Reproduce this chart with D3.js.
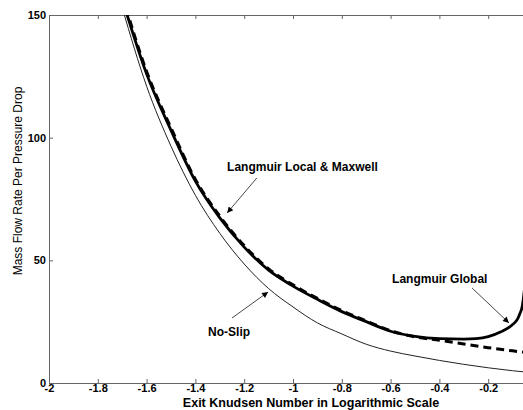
<!DOCTYPE html>
<html>
<head>
<meta charset="utf-8">
<script src="https://cdn.jsdelivr.net/npm/d3@7"></script>
<style>
    body { margin: 0; background: #fff; }
    svg { display: block; font-family: Arial, "Liberation Sans", sans-serif; }
</style>
</head>
<body>
<svg width="523" height="410"></svg>
<script>
// x = log10 of exit Knudsen number
var xTicks = [-2, -1.8, -1.6, -1.4, -1.2, -1, -0.8, -0.6, -0.4, -0.2];
var xTickLabels = ['-2', '-1.8', '-1.6', '-1.4', '-1.2', '-1', '-0.8', '-0.6', '-0.4', '-0.2'];
var yTicks = [0, 50, 100, 150];

var noSlipKn = [-1.7, -1.6, -1.5, -1.4, -1.3, -1.2, -1.1, -1.0, -0.9, -0.8, -0.7, -0.6, -0.5, -0.4, -0.3, -0.2, -0.1, 0];
var noSlip = [153, 121, 96.5, 76.5, 61, 48.5, 38.5, 31, 24.5, 20, 15.8, 13, 11, 9.2, 7.6, 6.2, 5, 4];

var localMaxwellKn = [-1.7, -1.6, -1.5, -1.4, -1.3, -1.2, -1.1, -1.0, -0.9, -0.8, -0.7, -0.6, -0.5, -0.4, -0.3, -0.2, -0.1, 0];
var localMaxwell = [158, 127, 104, 83, 68, 56, 46.5, 40, 34.5, 29.5, 25.3, 21.3, 18.8, 17.4, 15.9, 14.4, 13.1, 12];

var globalKn = [-1.7, -1.6, -1.5, -1.4, -1.3, -1.2, -1.1, -1.0, -0.9, -0.8, -0.7, -0.6, -0.5, -0.4, -0.3, -0.25, -0.2, -0.15, -0.1, -0.08, -0.07, -0.06, -0.05, -0.04];
var langmuirGlobal = [156.5, 126, 103, 82.3, 67.3, 55.4, 46, 39.5, 34.1, 29.1, 25, 21.1, 19, 18.1, 17.9, 18.1, 18.9, 20.8, 23.8, 26, 28.3, 31.5, 40, 55];

var svg = d3.select('svg');
var plotLeft = 49, plotTop = 15, plotRight = 537, plotBottom = 383;

var x = d3.scaleLinear().domain([-2, 0]).range([plotLeft, plotRight]);
var y = d3.scaleLinear().domain([0, 150]).range([plotBottom, plotTop]);

svg.append('clipPath').attr('id', 'plot')
    .append('rect')
        .attr('x', plotLeft).attr('y', plotTop)
        .attr('width', plotRight - plotLeft).attr('height', plotBottom - plotTop);

// axes, ticks pointing inward
function styleAxis(g) {
    g.selectAll('.domain').attr('stroke', '#666');
    g.selectAll('.tick line').attr('stroke', '#666');
    g.selectAll('text')
        .attr('fill', '#000')
        .attr('font-size', 11)
        .attr('font-weight', 'bold')
        .attr('font-family', 'Arial, "Liberation Sans", sans-serif');
}

svg.append('g')
    .attr('transform', 'translate(0,' + plotBottom + ')')
    .call(d3.axisBottom(x).tickValues(xTicks)
        .tickFormat(function(d, i) { return xTickLabels[i]; })
        .tickSizeInner(-4).tickSizeOuter(0).tickPadding(1))
    .call(styleAxis);

svg.append('g')
    .attr('transform', 'translate(0,' + plotTop + ')')
    .call(d3.axisTop(x).tickValues(xTicks).tickFormat('')
        .tickSizeInner(-4).tickSizeOuter(0))
    .call(styleAxis);

svg.append('g')
    .attr('transform', 'translate(' + plotLeft + ',0)')
    .call(d3.axisLeft(y).tickValues(yTicks)
        .tickSizeInner(-4).tickSizeOuter(0).tickPadding(3))
    .call(styleAxis);

// curves
function series(kn, vals) {
    return kn.map(function(d, i) { return [d, vals[i]]; });
}
var line = d3.line()
    .x(function(d) { return x(d[0]); })
    .y(function(d) { return y(d[1]); })
    .curve(d3.curveMonotoneX);

var curves = svg.append('g').attr('clip-path', 'url(#plot)');

curves.append('path')
    .datum(series(noSlipKn, noSlip))
    .attr('d', line)
    .attr('fill', 'none')
    .attr('stroke', '#222')
    .attr('stroke-width', 1);

curves.append('path')
    .datum(series(globalKn, langmuirGlobal))
    .attr('d', line)
    .attr('fill', 'none')
    .attr('stroke', '#000')
    .attr('stroke-width', 2.8);

curves.append('path')
    .datum(series(localMaxwellKn, localMaxwell))
    .attr('d', line)
    .attr('fill', 'none')
    .attr('stroke', '#000')
    .attr('stroke-width', 3)
    .attr('stroke-dasharray', '8,5');

// labels with arrows
svg.append('defs').append('marker')
    .attr('id', 'head')
    .attr('viewBox', '0 0 10 10')
    .attr('refX', 10).attr('refY', 5)
    .attr('markerWidth', 8).attr('markerHeight', 6)
    .attr('markerUnits', 'userSpaceOnUse')
    .attr('orient', 'auto')
    .append('path')
        .attr('d', 'M0,0L10,5L0,10z')
        .attr('fill', '#000');

var notes = [
    { text: 'Langmuir Local & Maxwell', tx: -1.270, ty: 88, from: [-1.148, 83.6], to: [-1.270, 69.3] },
    { text: 'Langmuir Global', tx: -0.594, ty: 42.4, from: [-0.266, 38.7], to: [-0.115, 24.5] },
    { text: 'No-Slip', tx: -1.348, ty: 20.8, from: [-1.25, 26.5], to: [-1.102, 37.1] }
];

notes.forEach(function(n) {
    svg.append('line')
        .attr('x1', x(n.from[0])).attr('y1', y(n.from[1]))
        .attr('x2', x(n.to[0])).attr('y2', y(n.to[1]))
        .attr('stroke', '#333')
        .attr('stroke-width', 0.9)
        .attr('marker-end', 'url(#head)');
    svg.append('text')
        .attr('x', x(n.tx)).attr('y', y(n.ty))
        .attr('dy', '0.35em')
        .attr('font-size', 12)
        .attr('font-weight', 'bold')
        .text(n.text);
});

// axis titles
svg.append('text')
    .attr('x', 311).attr('y', 407)
    .attr('text-anchor', 'middle')
    .attr('font-size', 12.5)
    .attr('font-weight', 'bold')
    .text('Exit Knudsen Number in Logarithmic Scale');

svg.append('text')
    .attr('transform', 'translate(22,181) rotate(-90)')
    .attr('text-anchor', 'middle')
    .attr('font-size', 12)
    .text('Mass Flow Rate Per Pressure Drop');
</script>
</body>
</html>
